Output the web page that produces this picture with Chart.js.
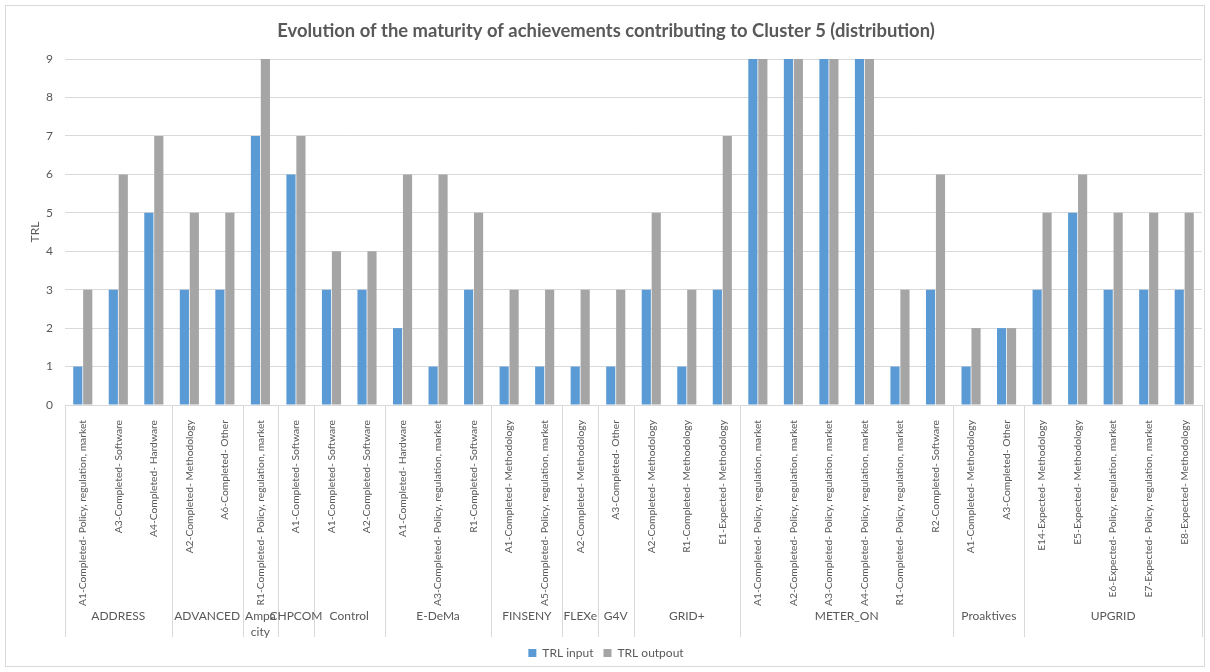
<!DOCTYPE html>
<html>
<head>
<meta charset="utf-8">
<script src="https://cdn.jsdelivr.net/npm/chart.js@4.4.1/dist/chart.umd.min.js"></script>
<style>
  html, body { margin: 0; padding: 0; background: #fff; }
  #wrap { width: 1210px; height: 672px; }
</style>
</head>
<body>
<div id="wrap"><canvas id="chart" width="1210" height="672"></canvas></div>
<script>
const groups = ['ADDRESS', 'ADVANCED', ['Ampa', 'city'], 'CHPCOM', 'Control', 'E-DeMa', 'FINSENY', 'FLEXe', 'G4V', 'GRID+', 'METER_ON', 'Proaktives', 'UPGRID']
const groupSizes = [3, 2, 1, 1, 2, 3, 2, 1, 1, 3, 6, 2, 5]

const categories = [
  'A1-Completed- Policy, regulation, market', 'A3-Completed- Software', 'A4-Completed- Hardware',
  'A2-Completed- Methodology', 'A6-Completed- Other',
  'R1-Completed- Policy, regulation, market',
  'A1-Completed- Software',
  'A1-Completed- Software', 'A2-Completed- Software',
  'A1-Completed- Hardware', 'A3-Completed- Policy, regulation, market', 'R1-Completed- Software',
  'A1-Completed- Methodology', 'A5-Completed- Policy, regulation, market',
  'A2-Completed- Methodology',
  'A3-Completed- Other',
  'A2-Completed- Methodology', 'R1-Completed- Methodology', 'E1-Expected- Methodology',
  'A1-Completed- Policy, regulation, market', 'A2-Completed- Policy, regulation, market',
  'A3-Completed- Policy, regulation, market', 'A4-Completed- Policy, regulation, market',
  'R1-Completed- Policy, regulation, market', 'R2-Completed- Software',
  'A1-Completed- Methodology', 'A3-Completed- Other',
  'E14-Expected- Methodology', 'E5-Expected- Methodology', 'E6-Expected- Policy, regulation, market',
  'E7-Expected- Policy, regulation, market', 'E8-Expected- Methodology'
]

const trlInput = [1, 3, 5, 3, 3, 7, 6, 3, 3, 2, 1, 3, 1, 1, 1, 1, 3, 1, 3, 9, 9, 9, 9, 1, 3, 1, 2, 3, 5, 3, 3, 3]
const trlOutput = [3, 6, 7, 5, 5, 9, 7, 4, 4, 6, 6, 5, 3, 3, 3, 3, 5, 3, 7, 9, 9, 9, 9, 3, 6, 2, 2, 5, 6, 5, 5, 5]

const yTicks = [0, 1, 2, 3, 4, 5, 6, 7, 8, 9]

const textColor = '#595959'
const gridColor = '#d9d9d9'
const fontFamily = 'Lato, "Open Sans", sans-serif'

// frame + white background
const framePlugin = {
  id: 'frame',
  beforeDraw(chart) {
    const ctx = chart.ctx
    ctx.save()
    ctx.fillStyle = '#fff'
    ctx.fillRect(0, 0, chart.width, chart.height)
    ctx.strokeStyle = gridColor
    ctx.lineWidth = 1
    ctx.strokeRect(5.5, 5.5, chart.width - 11, chart.height - 11)
    ctx.restore()
  }
}

// second level of the category axis: project names and separators
const groupAxisPlugin = {
  id: 'groupAxis',
  afterDraw(chart) {
    const xs = chart.scales.x
    const ctx = chart.ctx
    const step = (xs.right - xs.left) / categories.length
    ctx.save()
    ctx.strokeStyle = gridColor
    ctx.lineWidth = 1
    ctx.fillStyle = textColor
    ctx.font = '12px ' + fontFamily
    ctx.textAlign = 'center'
    ctx.textBaseline = 'middle'
    let start = 0
    const drawSep = (i) => {
      const x = Math.round(xs.left + i * step) + 0.5
      ctx.beginPath()
      ctx.moveTo(x, xs.top)
      ctx.lineTo(x, xs.bottom)
      ctx.stroke()
    }
    drawSep(0)
    groups.forEach((g, k) => {
      const end = start + groupSizes[k]
      drawSep(end)
      const cx = xs.left + (start + end) / 2 * step
      const lines = Array.isArray(g) ? g : [g]
      lines.forEach((line, j) => {
        ctx.fillText(line, cx, xs.top + 211 + j * 16)
      })
      start = end
    })
    ctx.restore()
  }
}

new Chart(document.getElementById('chart'), {
  type: 'bar',
  data: {
    labels: categories,
    datasets: [{
      label: 'TRL input',
      data: trlInput,
      backgroundColor: '#5b9bd5',
      categoryPercentage: 0.56,
      barPercentage: 0.92
    }, {
      label: 'TRL outpout',
      data: trlOutput,
      backgroundColor: '#a5a5a5',
      categoryPercentage: 0.56,
      barPercentage: 0.92
    }]
  },
  options: {
    responsive: false,
    animation: false,
    layout: { padding: { left: 10, right: 8, top: 8, bottom: 3 } },
    plugins: {
      title: {
        display: true,
        text: 'Evolution of the maturity of achievements contributing to Cluster 5 (distribution)',
        color: textColor,
        font: { family: fontFamily, size: 18.4, weight: 'bold' },
        padding: { top: 12, bottom: 17 }
      },
      legend: {
        position: 'bottom',
        labels: {
          color: textColor,
          boxWidth: 8,
          boxHeight: 8,
          padding: 10,
          font: { family: fontFamily, size: 12 }
        }
      },
      tooltip: { enabled: false }
    },
    scales: {
      x: {
        grid: { display: false },
        border: { display: false },
        ticks: {
          color: textColor,
          font: { family: fontFamily, size: 10.3 },
          minRotation: 90,
          maxRotation: 90,
          autoSkip: false,
          padding: 7
        },
        afterFit(scale) { scale.height = 232 }
      },
      y: {
        min: 0,
        max: 9,
        afterBuildTicks(scale) { scale.ticks = yTicks.map(v => ({ value: v })) },
        grid: { color: gridColor, drawTicks: false },
        border: { display: false },
        ticks: {
          color: textColor,
          font: { family: fontFamily, size: 12 },
          padding: 12
        },
        title: {
          display: true,
          text: 'TRL',
          color: textColor,
          font: { family: fontFamily, size: 12 },
          padding: { top: 18, bottom: 0 }
        },
        afterFit(scale) { scale.width = 55 }
      }
    }
  },
  plugins: [framePlugin, groupAxisPlugin]
})
</script>
</body>
</html>
